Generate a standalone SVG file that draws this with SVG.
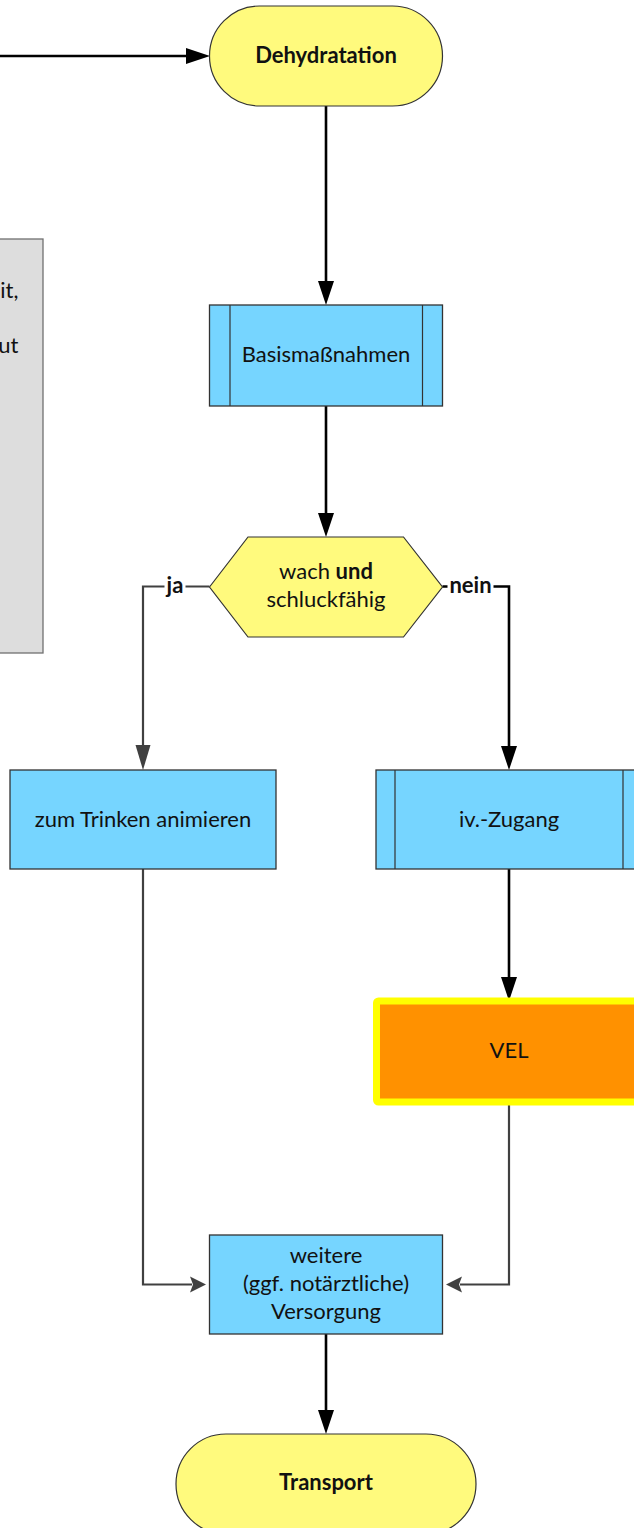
<svg xmlns="http://www.w3.org/2000/svg" width="634" height="1528" viewBox="0 0 634 1528">
<style>
text{font-family:Lato,"Liberation Sans",sans-serif;font-size:22px;fill:#111;text-anchor:middle}
.b{font-weight:bold}
.term{fill:#FFFA7D;stroke:#333;stroke-width:1.2}
.proc{fill:#76D5FF;stroke:#333;stroke-width:1.3}
.sub{fill:none;stroke:#333;stroke-width:1.2}
.dec{fill:#FFFA7D;stroke:#333;stroke-width:1.2}
.k{fill:none;stroke:#000;stroke-width:2.6}
.g{fill:none;stroke:#404040;stroke-width:2.2}
.lbl{fill:#fff;stroke:none}
</style>
<defs>
<marker id="ak" markerUnits="userSpaceOnUse" markerWidth="24" markerHeight="18" refX="0" refY="9" orient="auto" overflow="visible">
<path d="M0,1 L24,9 L0,17 z" fill="#000"/>
</marker>
<marker id="ag" markerUnits="userSpaceOnUse" markerWidth="25" markerHeight="16" refX="0" refY="8" orient="auto" overflow="visible">
<path d="M0,0.5 L25,8 L0,15.5 z" fill="#404040"/>
</marker>
<marker id="as" markerUnits="userSpaceOnUse" markerWidth="16" markerHeight="16" refX="2" refY="8" orient="auto" overflow="visible">
<path d="M0,0 L16,8 L0,16 L3,8 z" fill="#404040"/>
</marker>
</defs>

<g id="note">
<rect x="-2" y="239" width="45" height="414" fill="#DDDDDD" stroke="#707070" stroke-width="1.3"/>
<text x="18.5" y="298" style="text-anchor:end">it,</text>
<text x="18.5" y="353" style="text-anchor:end">ut</text>
</g>

<g id="connectors">
<path class="k" d="M-2,56 H186" marker-end="url(#ak)"/>
<path class="k" d="M326,106 V281" marker-end="url(#ak)"/>
<path class="k" d="M326,406 V513" marker-end="url(#ak)"/>
<path class="g" d="M209.5,586.5 H143 V745" marker-end="url(#ag)"/>
<path class="k" d="M442.5,586.5 H509 V746" marker-end="url(#ak)"/>
<path class="k" d="M509,869 V977" marker-end="url(#ak)"/>
<path class="g" d="M509,1105 V1284.5 H460" marker-end="url(#as)"/>
<path class="g" d="M143,869 V1284.5 H192" marker-end="url(#as)"/>
<path class="k" d="M326,1334 V1410" marker-end="url(#ak)"/>
<rect class="lbl" x="164.5" y="575" width="21" height="24"/>
<text class="b" x="175" y="593">ja</text>
<rect class="lbl" x="447.5" y="575" width="46" height="24"/>
<text class="b" x="470.5" y="593">nein</text>
</g>

<g id="dehydratation">
<rect class="term" x="209.5" y="6" width="233" height="100" rx="50" ry="50"/>
<text class="b" x="326" y="62.5">Dehydratation</text>
</g>

<g id="basismassnahmen">
<rect class="proc" x="209.5" y="305" width="233" height="101"/>
<path class="sub" d="M230,305 V406 M422.5,305 V406"/>
<text x="326" y="362">Basismaßnahmen</text>
</g>

<g id="entscheidung">
<polygon class="dec" points="209.5,587 248,537 403.5,537 442.5,587 403.5,637 248,637"/>
<text x="326" y="579">wach <tspan class="b">und</tspan></text>
<text x="326" y="607">schluckfähig</text>
</g>

<g id="trinken">
<rect class="proc" x="10" y="770" width="266" height="99"/>
<text x="143" y="827">zum Trinken animieren</text>
</g>

<g id="ivzugang">
<rect class="proc" x="376" y="770" width="266" height="99"/>
<path class="sub" d="M395,770 V869 M623,770 V869"/>
<text x="509" y="827">iv.-Zugang</text>
</g>

<g id="vel">
<rect x="376.5" y="1001" width="265" height="101" rx="2" fill="#FF9100" stroke="#FFFF00" stroke-width="7"/>
<text x="509" y="1057.5">VEL</text>
</g>

<g id="weitere">
<rect class="proc" x="209.5" y="1235" width="233" height="99"/>
<text x="326" y="1263">weitere</text>
<text x="326" y="1291">(ggf. notärztliche)</text>
<text x="326" y="1319">Versorgung</text>
</g>

<g id="transport">
<rect class="term" x="176" y="1434" width="300" height="100" rx="50" ry="50"/>
<text class="b" x="326" y="1490">Transport</text>
</g>
</svg>
